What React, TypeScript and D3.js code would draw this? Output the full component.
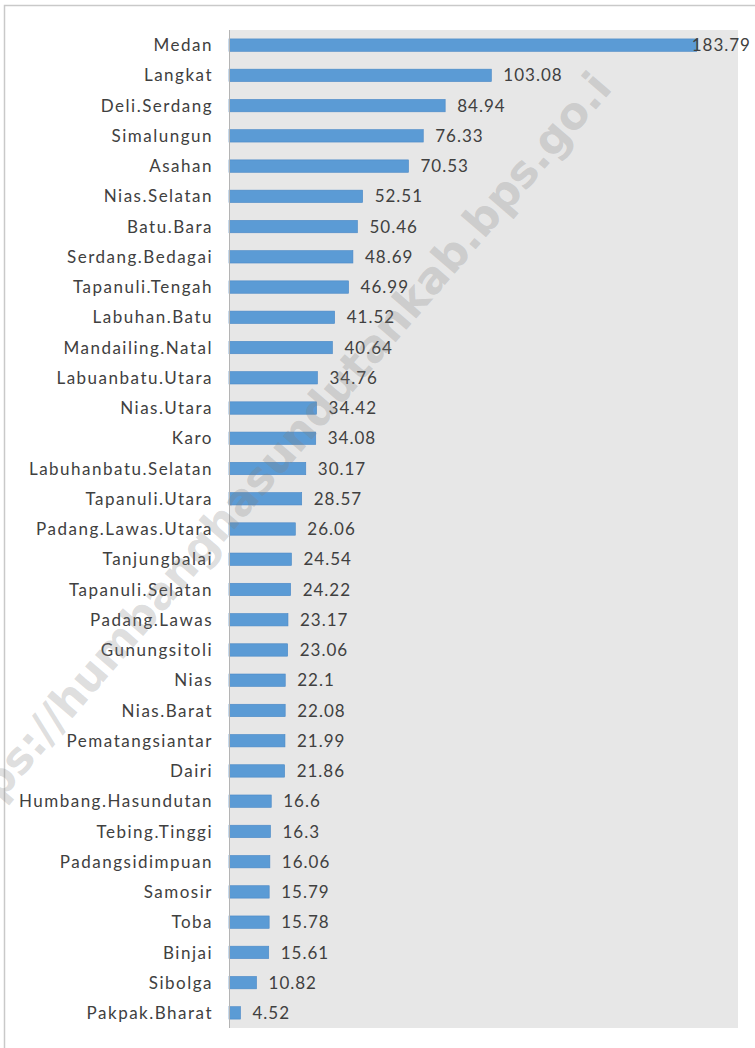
import { useRef, useEffect } from 'react'
import * as d3 from 'd3'

const REGIONS = [
  'Medan', 'Langkat', 'Deli.Serdang', 'Simalungun', 'Asahan', 'Nias.Selatan', 'Batu.Bara',
  'Serdang.Bedagai', 'Tapanuli.Tengah', 'Labuhan.Batu', 'Mandailing.Natal', 'Labuanbatu.Utara',
  'Nias.Utara', 'Karo', 'Labuhanbatu.Selatan', 'Tapanuli.Utara', 'Padang.Lawas.Utara',
  'Tanjungbalai', 'Tapanuli.Selatan', 'Padang.Lawas', 'Gunungsitoli', 'Nias', 'Nias.Barat',
  'Pematangsiantar', 'Dairi', 'Humbang.Hasundutan', 'Tebing.Tinggi', 'Padangsidimpuan',
  'Samosir', 'Toba', 'Binjai', 'Sibolga', 'Pakpak.Bharat',
]
const VALUES = [
  183.79, 103.08, 84.94, 76.33, 70.53, 52.51, 50.46,
  48.69, 46.99, 41.52, 40.64, 34.76,
  34.42, 34.08, 30.17, 28.57, 26.06,
  24.54, 24.22, 23.17, 23.06, 22.1, 22.08,
  21.99, 21.86, 16.6, 16.3, 16.06,
  15.79, 15.78, 15.61, 10.82, 4.52,
]
const X_MAX = 200
const WATERMARK = 'https://humbanghasundutankab.bps.go.i'

const W = 755
const H = 1048
const PLOT = { left: 229, right: 738, top: 30, bottom: 1028 }
const FONT = 'Lato, "Open Sans", sans-serif'

export default function App() {
  const svgRef = useRef<SVGSVGElement>(null)

  useEffect(() => {
    const svg = d3.select(svgRef.current)
    svg.selectAll('*').remove()

    const data = REGIONS.map((name, i) => ({ name, value: VALUES[i] }))

    const x = d3.scaleLinear().domain([0, X_MAX]).range([PLOT.left, PLOT.right])
    const y = d3.scaleBand<string>()
      .domain(REGIONS)
      .range([PLOT.top, PLOT.bottom])
      .paddingInner(0.59)
      .paddingOuter(0.295)

    // outer frame of the picture
    svg.append('path')
      .attr('d', `M4.5,${H} V5.5 H${W}`)
      .attr('fill', 'none')
      .attr('stroke', '#c9c9c9')
      .attr('stroke-width', 1.5)

    // plot background
    svg.append('rect')
      .attr('x', PLOT.left).attr('y', PLOT.top)
      .attr('width', PLOT.right - PLOT.left)
      .attr('height', PLOT.bottom - PLOT.top)
      .attr('fill', '#e7e7e7')

    // bars
    svg.append('g')
      .selectAll('rect')
      .data(data)
      .join('rect')
      .attr('x', x(0))
      .attr('y', d => y(d.name)!)
      .attr('width', d => x(d.value) - x(0))
      .attr('height', y.bandwidth())
      .attr('fill', '#5b9bd5')
      .attr('stroke', '#4a88c6')
      .attr('stroke-width', 0.6)

    // category axis
    svg.append('line')
      .attr('x1', PLOT.left + 0.5).attr('x2', PLOT.left + 0.5)
      .attr('y1', PLOT.top).attr('y2', PLOT.bottom)
      .attr('stroke', '#b4b4b4')

    svg.append('g')
      .selectAll('text')
      .data(data)
      .join('text')
      .attr('x', 213)
      .attr('y', d => y(d.name)! + y.bandwidth() / 2)
      .attr('dy', '0.36em')
      .attr('text-anchor', 'end')
      .attr('font-family', FONT)
      .attr('font-size', 17)
      .attr('letter-spacing', 1.5)
      .attr('fill', '#404040')
      .text(d => d.name)

    // value labels, pulled back inside the picture when they would run off
    svg.append('g')
      .selectAll('text')
      .data(data)
      .join('text')
      .attr('x', d => x(d.value) + 12)
      .attr('y', d => y(d.name)! + y.bandwidth() / 2)
      .attr('dy', '0.36em')
      .attr('font-family', FONT)
      .attr('font-size', 17)
      .attr('letter-spacing', 1)
      .attr('fill', '#404040')
      .text(d => d.value)
      .each(function (d) {
        const len = (this as SVGTextElement).getComputedTextLength()
        const x0 = x(d.value) + 12
        if (x0 + len > W - 4) d3.select(this).attr('x', W - 4 - len)
      })

    // site watermark
    svg.append('text')
      .attr('transform', 'translate(-48,858) rotate(-49.3)')
      .attr('font-family', '"DejaVu Sans", sans-serif')
      .attr('font-weight', 'bold')
      .attr('font-size', 44)
      .attr('fill', '#808080')
      .attr('fill-opacity', 0.27)
      .text(WATERMARK)
  }, [])

  return (
    <div style={{ position: 'absolute', left: 0, top: 0 }}>
      <svg ref={svgRef} width={W} height={H} style={{ display: 'block', background: '#fff' }} />
    </div>
  )
}
